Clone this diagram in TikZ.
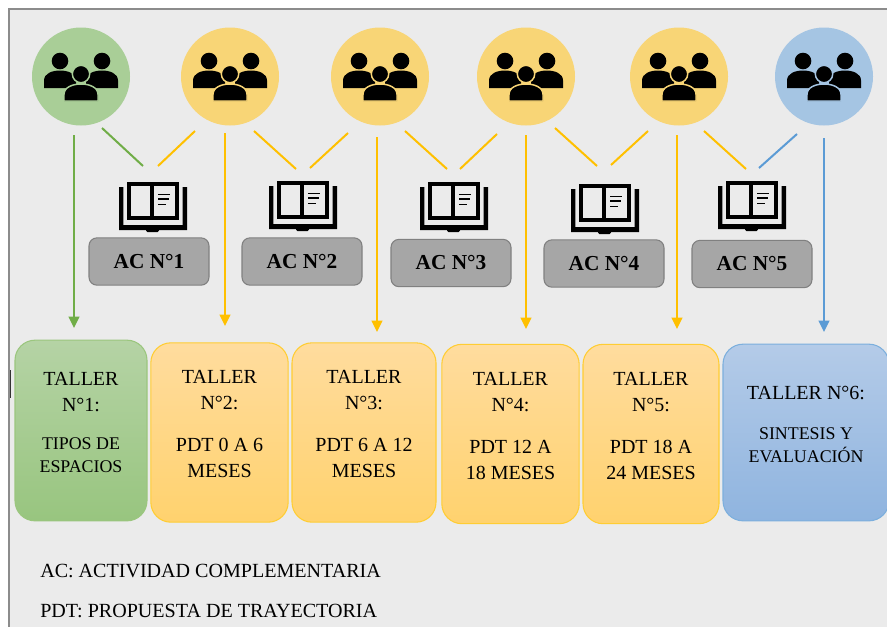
\documentclass[tikz,border=0pt]{standalone}
\usepackage{fontspec}
\setmainfont{Liberation Serif}
\usetikzlibrary{arrows.meta, shapes, backgrounds}

\definecolor{fondo}{HTML}{EBEBEB}
\definecolor{marco}{HTML}{8C8C8C}
\definecolor{verde}{HTML}{70AD47}
\definecolor{amarillo}{HTML}{FFC000}
\definecolor{azul}{HTML}{5B9BD5}
\definecolor{circverde}{HTML}{A9CE97}
\definecolor{circamarillo}{HTML}{F8D576}
\definecolor{circazul}{HTML}{A5C5E3}

\newcommand{\chico}{\fontsize{13.4}{17}\selectfont}
\newcommand{\cierre}{\\[-7pt]\mbox{}}

\tikzset{
  grupo/.style={circle, minimum size=73.5pt, inner sep=0pt},
  actividad/.style={shape=rectangle, rounded corners=6pt, fill=black!35, draw=black!50, thick,
    minimum height=35.5pt, minimum width=90pt, font=\fontsize{16}{18}\selectfont\bfseries},
  taller/.style={shape=rectangle, rounded corners=15pt, thick, align=center, inner sep=0pt,
    minimum height=134.5pt, font=\fontsize{15}{19.5}\selectfont},
  tallerverde/.style={taller, draw=verde!70!white, top color={rgb,255:red,181;green,211;blue,165}, bottom color={rgb,255:red,152;green,197;blue,127}},
  talleramarillo/.style={taller, draw=amarillo!80, top color={rgb,255:red,255;green,220;blue,158}, bottom color={rgb,255:red,255;green,210;blue,110}},
  tallerazul/.style={taller, draw=azul!80, top color={rgb,255:red,180;green,203;blue,232}, bottom color={rgb,255:red,143;green,180;blue,223}},
  nota/.style={anchor=west, inner sep=0pt, font=\fontsize{15.05}{17}\selectfont},
  personas/.pic={
    \fill[black] (-21,-15.5) circle[radius=8.3];
    \fill[black] (21,-15.5) circle[radius=8.3];
    \fill[black] (-37,11.5) -- (-37,4) .. controls (-37,-3) and (-29,-6) .. (-21,-6)
      .. controls (-13,-6) and (-5,-3) .. (-5,4) -- (-5,11.5) -- cycle;
    \fill[black] (37,11.5) -- (37,4) .. controls (37,-3) and (29,-6) .. (21,-6)
      .. controls (13,-6) and (5,-3) .. (5,4) -- (5,11.5) -- cycle;
    \filldraw[fill=black, draw=#1, line width=1.1pt] (0,-2.5) circle[radius=8.7];
    \filldraw[fill=black, draw=#1, line width=1.1pt] (-17,24.5) -- (-17,18) .. controls (-17,10.5) and (-8,7.5) .. (0,7.5)
      .. controls (8,7.5) and (17,10.5) .. (17,18) -- (17,24.5) -- cycle;
  },
  libro/.pic={
    \draw[black, line width=3pt] (-24,-23.5) rectangle (24,11);
    \draw[black, line width=3pt] (-0.7,-23.5) -- (-0.7,11);
    \fill[black] (-34,-20) -- (-29.7,-20) -- (-29.7,18) -- (29.7,18) -- (29.7,-20) -- (34,-20)
      -- (34,23) -- (-34,23) -- cycle;
    \fill[black, rounded corners=1pt] (-7,22) rectangle (6,25);
    \draw[black, line width=1.2pt] (5,-12.7) -- (17,-12.7);
    \draw[black, line width=1.2pt] (5,-8) -- (16,-8);
    \draw[black, line width=1.2pt] (5,-2.7) -- (13,-2.7);
  }
}

\begin{document}
\begin{tikzpicture}[x=0.75pt, y=-0.75pt]
\useasboundingbox (0,0) rectangle (887,626);
\clip (0,0) rectangle (887,626);
\fill[white] (0,0) rectangle (887,626);
\draw[marco, line width=2.2pt, fill=fondo] (9,9) rectangle (905,650);
\draw[black!80, line width=1pt] (10.5,370) -- (10.5,398);

\node[grupo, fill=circverde] (P1) at (81,76.5) {};
\node[grupo, fill=circamarillo] (P2) at (230,76.5) {};
\node[grupo, fill=circamarillo] (P3) at (380,76.5) {};
\node[grupo, fill=circamarillo] (P4) at (526,76.5) {};
\node[grupo, fill=circamarillo] (P5) at (679,76.5) {};
\node[grupo, fill=circazul] (P6) at (824,76.5) {};
\pic at (P1) {personas=circverde};
\pic at (P2) {personas=circamarillo};
\pic at (P3) {personas=circamarillo};
\pic at (P4) {personas=circamarillo};
\pic at (P5) {personas=circamarillo};
\pic at (P6) {personas=circazul};

\pic at (153,207) {libro};
\pic at (303,206) {libro};
\pic at (454,207) {libro};
\pic at (605,209) {libro};
\pic at (752,206) {libro};

\node[actividad] (AC1) at (149,261.5) {AC N°1};
\node[actividad] (AC2) at (302,261.5) {AC N°2};
\node[actividad] (AC3) at (451,263) {AC N°3};
\node[actividad] (AC4) at (604,263.5) {AC N°4};
\node[actividad] (AC5) at (752,264) {AC N°5};

\node[tallerverde, minimum width=99pt, minimum height=135.5pt] (T1) at (81,430.5)
  {TALLER\\N°1:\\[9pt]\chico TIPOS DE\\[-2.5pt]\chico ESPACIOS\\[-7pt]\mbox{}};
\node[talleramarillo, minimum width=103pt] (T2) at (219.5,432.5)
  {TALLER\\N°2:\\[12pt]PDT 0 A 6\\MESES\cierre};
\node[talleramarillo, minimum width=108pt] (T3) at (364,432.5)
  {TALLER\\N°3:\\[12pt]PDT 6 A 12\\MESES\cierre};
\node[talleramarillo, minimum width=103pt] (T4) at (510.5,434)
  {TALLER\\N°4:\\[12pt]PDT 12 A\\18 MESES\cierre};
\node[talleramarillo, minimum width=102pt] (T5) at (651,434)
  {TALLER\\N°5:\\[12pt]PDT 18 A\\24 MESES\cierre};
\node[tallerazul, minimum width=124.5pt, minimum height=132.5pt] (T6) at (806,432.5)
  {TALLER N°6:\\[11pt]\chico SINTESIS Y\\[-2.5pt]\chico EVALUACIÓN\cierre};

\node[nota] (N1) at (40,571) {AC: ACTIVIDAD COMPLEMENTARIA};
\node[nota] (N2) at (40,611) {PDT: PROPUESTA DE TRAYECTORIA};

% inicio y fin de flechas
\coordinate (F1a) at (74,135);   \coordinate (F1b) at (74,328);
\coordinate (F2a) at (225,133);  \coordinate (F2b) at (225,326);
\coordinate (F3a) at (377,137);  \coordinate (F3b) at (377,332);
\coordinate (F4a) at (526,135);  \coordinate (F4b) at (526,329);
\coordinate (F5a) at (677,135);  \coordinate (F5b) at (677,329);
\coordinate (F6a) at (824,138);  \coordinate (F6b) at (824,332);

% lineas hacia los libros
\coordinate (L1a) at (102,128);  \coordinate (L1b) at (143,166);
\coordinate (L2a) at (195,131);  \coordinate (L2b) at (158,166);
\coordinate (L3a) at (254,131);  \coordinate (L3b) at (296,169);
\coordinate (L4a) at (348,133);  \coordinate (L4b) at (310,168);
\coordinate (L5a) at (405,131);  \coordinate (L5b) at (447,169);
\coordinate (L6a) at (497,134);  \coordinate (L6b) at (460,169);
\coordinate (L7a) at (555,128);  \coordinate (L7b) at (597,166);
\coordinate (L8a) at (648,131);  \coordinate (L8b) at (611,165);
\coordinate (L9a) at (704,131);  \coordinate (L9b) at (746,169);
\coordinate (L10a) at (797,134); \coordinate (L10b) at (759,168);

\begin{scope}[>={Stealth[inset=0pt, length=8.5pt, width=8pt]}, every edge/.style={draw, line width=1.5pt}]
    \path[->, verde] (F1a) edge (F1b);
    \path[->, amarillo] (F2a) edge (F2b);
    \path[->, amarillo] (F3a) edge (F3b);
    \path[->, amarillo] (F4a) edge (F4b);
    \path[->, amarillo] (F5a) edge (F5b);
    \path[->, azul] (F6a) edge (F6b);
    \path[verde] (L1a) edge (L1b);
    \path[amarillo] (L2a) edge (L2b);
    \path[amarillo] (L3a) edge (L3b);
    \path[amarillo] (L4a) edge (L4b);
    \path[amarillo] (L5a) edge (L5b);
    \path[amarillo] (L6a) edge (L6b);
    \path[amarillo] (L7a) edge (L7b);
    \path[amarillo] (L8a) edge (L8b);
    \path[amarillo] (L9a) edge (L9b);
    \path[azul] (L10a) edge (L10b);
\end{scope}

\end{tikzpicture}
\end{document}
